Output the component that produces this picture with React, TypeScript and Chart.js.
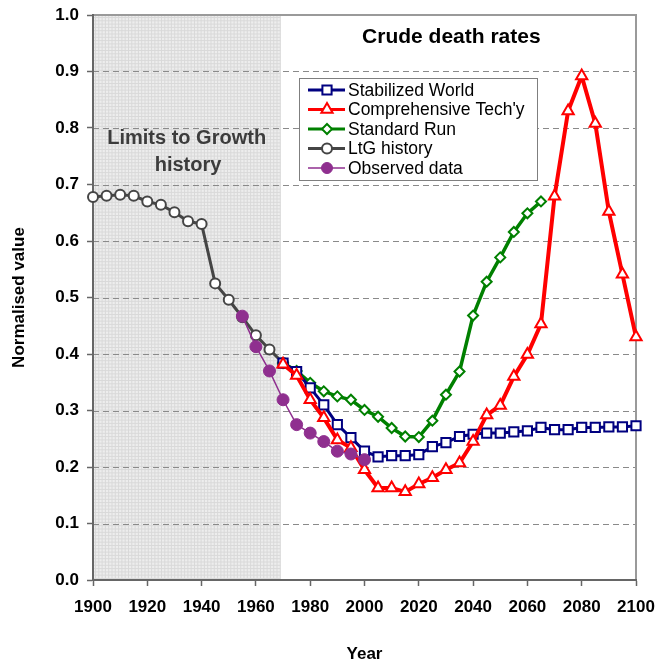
import React, { useEffect, useRef } from 'react';
import { Chart, registerables } from 'chart.js';

Chart.register(...registerables);

const FONT = '"Liberation Sans", Arial, Helvetica, sans-serif';

// ---- data ----
const ltgYears = [1900, 1905, 1910, 1915, 1920, 1925, 1930, 1935, 1940, 1945, 1950, 1955, 1960, 1965, 1970];
const ltgValues = [0.678, 0.680, 0.682, 0.680, 0.670, 0.664, 0.651, 0.635, 0.630, 0.525, 0.496, 0.465, 0.433, 0.408, 0.384];

const observedYears = [1955, 1960, 1965, 1970, 1975, 1980, 1985, 1990, 1995, 2000];
const observedValues = [0.467, 0.413, 0.370, 0.319, 0.275, 0.260, 0.245, 0.228, 0.223, 0.213];

const projectionYears = [1970, 1975, 1980, 1985, 1990, 1995, 2000, 2005, 2010, 2015, 2020, 2025, 2030, 2035, 2040, 2045, 2050, 2055, 2060, 2065, 2070, 2075, 2080, 2085, 2090, 2095, 2100];
const stabilizedValues = [0.384, 0.369, 0.340, 0.310, 0.275, 0.252, 0.228, 0.218, 0.220, 0.220, 0.222, 0.236, 0.243, 0.254, 0.258, 0.260, 0.260, 0.262, 0.264, 0.270, 0.266, 0.266, 0.270, 0.270, 0.271, 0.271, 0.273];
const comprehensiveValues = [0.382, 0.362, 0.319, 0.287, 0.248, 0.234, 0.195, 0.163, 0.163, 0.156, 0.170, 0.181, 0.195, 0.207, 0.245, 0.292, 0.309, 0.360, 0.399, 0.453, 0.679, 0.830, 0.892, 0.808, 0.652, 0.541, 0.430];

const standardYears = [1970, 1975, 1980, 1985, 1990, 1995, 2000, 2005, 2010, 2015, 2020, 2025, 2030, 2035, 2040, 2045, 2050, 2055, 2060, 2065];
const standardValues = [0.384, 0.370, 0.349, 0.334, 0.325, 0.319, 0.301, 0.289, 0.269, 0.254, 0.253, 0.282, 0.328, 0.369, 0.468, 0.528, 0.571, 0.616, 0.649, 0.670];

const historyStart = 1900;
const historyEnd = 1969;

const xMin = 1900;
const xMax = 2100;
const xStep = 20;
const yMin = 0;
const yMax = 1;
const yStep = 0.1;

const toPoints = (xs: number[], ys: number[]) => xs.map((x, i) => ({ x, y: ys[i] }));

function drawMarker(ctx: CanvasRenderingContext2D, style: string, x: number, y: number, r: number) {
  ctx.beginPath();
  if (style === 'rect') {
    const s = r * Math.SQRT1_2;
    ctx.rect(x - s, y - s, 2 * s, 2 * s);
  } else if (style === 'triangle') {
    for (let k = 0; k < 3; k++) {
      const a = -Math.PI / 2 + (k * 2 * Math.PI) / 3;
      const px = x + Math.cos(a) * r;
      const py = y + Math.sin(a) * r;
      if (k === 0) ctx.moveTo(px, py); else ctx.lineTo(px, py);
    }
    ctx.closePath();
  } else if (style === 'rectRot') {
    ctx.moveTo(x, y - r);
    ctx.lineTo(x + r, y);
    ctx.lineTo(x, y + r);
    ctx.lineTo(x - r, y);
    ctx.closePath();
  } else {
    ctx.arc(x, y, r, 0, Math.PI * 2);
  }
  ctx.fill();
  ctx.stroke();
}

const decorPlugin = {
  id: 'decor',
  beforeDraw(chart: any) {
    const { ctx, chartArea: a } = chart;
    const xs = chart.scales.x;
    const ys = chart.scales.y;
    ctx.save();
    ctx.fillStyle = '#ffffff';
    ctx.fillRect(0, 0, chart.width, chart.height);

    // shaded "history" band with a fine grid texture
    const x0 = xs.getPixelForValue(historyStart);
    const x1 = xs.getPixelForValue(historyEnd);
    ctx.fillStyle = '#ededed';
    ctx.fillRect(x0, a.top, x1 - x0, a.bottom - a.top);
    ctx.strokeStyle = '#d9d9d9';
    ctx.lineWidth = 1;
    ctx.beginPath();
    for (let px = Math.round(x0) + 2.5; px < x1; px += 3.3) {
      ctx.moveTo(px, a.top);
      ctx.lineTo(px, a.bottom);
    }
    for (let py = Math.round(a.top) + 2.5; py < a.bottom; py += 3.3) {
      ctx.moveTo(x0, py);
      ctx.lineTo(x1, py);
    }
    ctx.stroke();

    // dashed horizontal gridlines
    ctx.setLineDash([6, 4]);
    ctx.strokeStyle = '#8a8a8a';
    ctx.lineWidth = 1;
    ys.ticks.forEach((t: any) => {
      if (t.value <= yMin + 1e-9 || t.value >= yMax - 1e-9) return;
      const py = Math.round(ys.getPixelForValue(t.value)) + 0.5;
      ctx.beginPath();
      ctx.moveTo(a.left, py);
      ctx.lineTo(a.right, py);
      ctx.stroke();
    });
    ctx.setLineDash([]);

    // top and right frame
    ctx.strokeStyle = '#9a9a9a';
    ctx.lineWidth = 2;
    ctx.beginPath();
    ctx.moveTo(a.left, a.top);
    ctx.lineTo(a.right, a.top);
    ctx.lineTo(a.right, a.bottom);
    ctx.stroke();

    // in-plot texts
    ctx.textAlign = 'center';
    ctx.textBaseline = 'middle';
    ctx.fillStyle = '#000000';
    ctx.font = `bold 21px ${FONT}`;
    ctx.fillText('Crude death rates', xs.getPixelForValue(2032), ys.getPixelForValue(0.96));

    ctx.fillStyle = '#3c3c3c';
    ctx.font = `bold 20px ${FONT}`;
    const mid = (historyStart + historyEnd) / 2;
    ctx.fillText('Limits to Growth', xs.getPixelForValue(mid), ys.getPixelForValue(0.782));
    ctx.fillText('history', xs.getPixelForValue(mid + 0.5), ys.getPixelForValue(0.733));
    ctx.restore();
  },
  afterDraw(chart: any) {
    const { ctx, chartArea: a } = chart;
    ctx.save();
    const left = a.left + 206;
    const top = a.top + 63;
    const w = 238;
    const h = 102;
    ctx.fillStyle = '#ffffff';
    ctx.fillRect(left, top, w, h);
    ctx.strokeStyle = '#7f7f7f';
    ctx.lineWidth = 1;
    ctx.strokeRect(left + 0.5, top + 0.5, w, h);

    const order = [0, 1, 2, 3, 4];
    order.forEach((idx, row) => {
      const ds = chart.data.datasets[idx];
      const cy = top + 12 + row * 19.5;
      ctx.strokeStyle = ds.borderColor;
      ctx.lineWidth = ds.legendLineWidth;
      ctx.beginPath();
      ctx.moveTo(left + 9, cy);
      ctx.lineTo(left + 46, cy);
      ctx.stroke();
      ctx.fillStyle = ds.pointBackgroundColor;
      ctx.strokeStyle = ds.pointBorderColor;
      ctx.lineWidth = ds.pointBorderWidth;
      drawMarker(ctx, ds.pointStyle, left + 28, cy, ds.legendRadius);
      ctx.fillStyle = '#000000';
      ctx.font = `17.5px ${FONT}`;
      ctx.textAlign = 'left';
      ctx.textBaseline = 'middle';
      ctx.fillText(ds.label, left + 49, cy + 1);
    });
    ctx.restore();
  },
};

export default function App() {
  const canvasRef = useRef<HTMLCanvasElement | null>(null);

  useEffect(() => {
    const canvas = canvasRef.current;
    if (!canvas) return;
    const chart = new Chart(canvas, {
      type: 'line',
      data: {
        datasets: [
          {
            label: 'Stabilized World',
            data: toPoints(projectionYears, stabilizedValues),
            borderColor: '#000080',
            borderWidth: 3,
            pointStyle: 'rect',
            pointRadius: 6.5,
            pointBorderWidth: 2,
            pointBackgroundColor: '#ffffff',
            pointBorderColor: '#000080',
            legendLineWidth: 3,
            legendRadius: 6.5,
            order: 2,
            clip: false,
          } as any,
          {
            label: "Comprehensive Tech'y",
            data: toPoints(projectionYears, comprehensiveValues),
            borderColor: '#ff0000',
            borderWidth: 4,
            pointStyle: 'triangle',
            pointRadius: 6.5,
            pointBorderWidth: 2,
            pointBackgroundColor: '#ffffff',
            pointBorderColor: '#ff0000',
            legendLineWidth: 3,
            legendRadius: 6.5,
            order: 1,
            clip: false,
          } as any,
          {
            label: 'Standard Run',
            data: toPoints(standardYears, standardValues),
            borderColor: '#008000',
            borderWidth: 3.5,
            pointStyle: 'rectRot',
            pointRadius: 5,
            pointBorderWidth: 2,
            pointBackgroundColor: '#ffffff',
            pointBorderColor: '#008000',
            legendLineWidth: 3,
            legendRadius: 5,
            order: 3,
            clip: false,
          } as any,
          {
            label: 'LtG history',
            data: toPoints(ltgYears, ltgValues),
            borderColor: '#454545',
            borderWidth: 3,
            pointStyle: 'circle',
            pointRadius: 5,
            pointBorderWidth: 2,
            pointBackgroundColor: '#ffffff',
            pointBorderColor: '#454545',
            legendLineWidth: 3,
            legendRadius: 5,
            order: 4,
            clip: false,
          } as any,
          {
            label: 'Observed data',
            data: toPoints(observedYears, observedValues),
            borderColor: '#8f2f8f',
            borderWidth: 1.5,
            pointStyle: 'circle',
            pointRadius: 6,
            pointBorderWidth: 1,
            pointBackgroundColor: '#8f2f8f',
            pointBorderColor: '#8f2f8f',
            legendLineWidth: 1.5,
            legendRadius: 5.5,
            order: 0,
            clip: false,
          } as any,
        ],
      },
      options: {
        responsive: false,
        devicePixelRatio: 1,
        animation: false,
        events: [],
        layout: { padding: { top: 15, right: 21, left: 0, bottom: 0 } },
        elements: { line: { tension: 0, fill: false } },
        plugins: {
          legend: { display: false },
          tooltip: { enabled: false },
          title: { display: false },
        },
        scales: {
          x: {
            type: 'linear',
            min: xMin,
            max: xMax,
            afterFit: (s: any) => {
              s.height = 85;
              s.paddingLeft = 0;
              s.paddingRight = 0;
            },
            ticks: {
              stepSize: xStep,
              color: '#000000',
              font: { family: FONT, size: 17, weight: 'bold' },
              padding: 11,
              maxRotation: 0,
              autoSkip: false,
              callback: (v: any) => String(v),
            },
            grid: { display: true, drawOnChartArea: false, drawTicks: true, tickLength: 6, tickColor: '#666666', tickWidth: 1.5 },
            border: { display: true, color: '#666666', width: 2 },
            title: {
              display: true,
              text: 'Year',
              color: '#000000',
              font: { family: FONT, size: 17, weight: 'bold' },
              padding: { top: 0, bottom: 0 },
            },
          },
          y: {
            type: 'linear',
            min: yMin,
            max: yMax,
            afterFit: (s: any) => {
              s.width = 93;
              s.paddingTop = 0;
              s.paddingBottom = 0;
            },
            ticks: {
              stepSize: yStep,
              color: '#000000',
              font: { family: FONT, size: 17, weight: 'bold' },
              padding: 8,
              callback: (v: any) => Number(v).toFixed(1),
            },
            grid: { display: true, drawOnChartArea: false, drawTicks: true, tickLength: 6, tickColor: '#666666', tickWidth: 1.5 },
            border: { display: true, color: '#666666', width: 2 },
            title: {
              display: true,
              text: 'Normalised value',
              color: '#000000',
              font: { family: FONT, size: 17, weight: 'bold' },
              padding: { top: 9, bottom: 0 },
            },
          },
        },
      } as any,
      plugins: [decorPlugin],
    });
    return () => chart.destroy();
  }, []);

  return (
    <div style={{ position: 'absolute', left: 0, top: 0, width: 657, height: 665, background: '#ffffff' }}>
      <canvas ref={canvasRef} width={657} height={665} style={{ display: 'block', width: 657, height: 665 }} />
    </div>
  );
}
